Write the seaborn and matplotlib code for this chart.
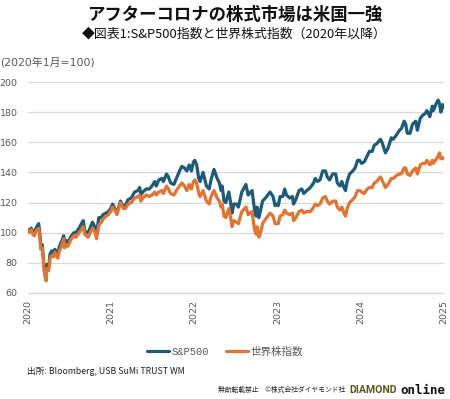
import matplotlib
matplotlib.use("Agg")
import matplotlib.pyplot as plt
import matplotlib.dates as mdates
import pandas as pd
import seaborn as sns

# --- data (2020年1月 = 100) ---
dates = [
    "2020-01-02", "2020-01-10", "2020-01-17", "2020-01-24", "2020-01-31", "2020-02-07",
    "2020-02-19", "2020-02-25", "2020-02-28", "2020-03-06", "2020-03-12", "2020-03-16",
    "2020-03-23", "2020-03-26", "2020-04-03", "2020-04-09", "2020-04-17", "2020-04-24",
    "2020-04-30", "2020-05-13", "2020-05-20", "2020-05-29", "2020-06-08", "2020-06-11",
    "2020-06-19", "2020-06-26", "2020-07-08", "2020-07-22", "2020-07-31", "2020-08-14",
    "2020-08-28", "2020-09-02", "2020-09-08", "2020-09-23", "2020-10-12", "2020-10-22",
    "2020-10-30", "2020-11-09", "2020-11-20", "2020-11-27", "2020-12-10", "2020-12-21",
    "2020-12-31",
    "2021-01-08", "2021-01-15", "2021-01-27", "2021-02-12", "2021-02-25", "2021-03-05",
    "2021-03-17", "2021-03-31", "2021-04-15", "2021-04-30", "2021-05-07", "2021-05-12",
    "2021-05-21", "2021-06-04", "2021-06-18", "2021-06-30", "2021-07-12", "2021-07-19",
    "2021-07-30", "2021-08-13", "2021-08-19", "2021-09-02", "2021-09-10", "2021-09-20",
    "2021-10-04", "2021-10-15", "2021-10-29", "2021-11-08", "2021-11-19", "2021-11-30",
    "2021-12-10", "2021-12-20", "2021-12-29",
    "2022-01-04", "2022-01-12", "2022-01-21", "2022-01-27", "2022-02-09", "2022-02-24",
    "2022-03-08", "2022-03-16", "2022-03-29", "2022-04-12", "2022-04-22", "2022-04-29",
    "2022-05-04", "2022-05-12", "2022-05-20", "2022-06-02", "2022-06-10", "2022-06-16",
    "2022-06-24", "2022-07-06", "2022-07-14", "2022-07-29", "2022-08-16", "2022-08-26",
    "2022-09-12", "2022-09-23", "2022-09-30", "2022-10-04", "2022-10-12", "2022-10-21",
    "2022-10-28", "2022-11-10", "2022-11-30", "2022-12-13", "2022-12-22", "2022-12-30",
    "2023-01-05", "2023-01-13", "2023-01-25", "2023-02-02", "2023-02-10", "2023-02-24",
    "2023-03-08", "2023-03-13", "2023-03-23", "2023-04-06", "2023-04-18", "2023-04-27",
    "2023-05-10", "2023-05-26", "2023-06-09", "2023-06-16", "2023-06-26", "2023-07-07",
    "2023-07-19", "2023-07-31", "2023-08-08", "2023-08-18", "2023-09-01", "2023-09-14",
    "2023-09-21", "2023-10-03", "2023-10-11", "2023-10-20", "2023-10-27", "2023-11-03",
    "2023-11-14", "2023-11-28", "2023-12-08", "2023-12-19", "2023-12-28",
    "2024-01-05", "2024-01-17", "2024-01-30", "2024-02-09", "2024-02-21", "2024-03-01",
    "2024-03-12", "2024-03-28", "2024-04-04", "2024-04-19", "2024-04-30", "2024-05-15",
    "2024-05-23", "2024-06-07", "2024-06-20", "2024-06-28", "2024-07-10", "2024-07-17",
    "2024-07-24", "2024-08-05", "2024-08-16", "2024-08-30", "2024-09-06", "2024-09-19",
    "2024-09-30", "2024-10-10", "2024-10-18", "2024-10-31", "2024-11-11", "2024-11-15",
    "2024-11-29", "2024-12-06", "2024-12-12", "2024-12-18", "2024-12-26", "2024-12-31",
]

sp500 = [
    100, 102, 103, 101, 99, 103, 106, 98, 91, 92, 80, 74,
    70, 79, 77, 86, 88, 86, 89, 86, 91, 94, 98, 92,
    95, 93, 97, 100, 100, 103, 107, 108, 101, 100, 107, 104,
    100, 110, 110, 112, 113, 114, 116,
    119, 117, 113, 121, 117, 118, 122, 123, 127, 128, 130, 125,
    127, 129, 129, 131, 134, 131, 135, 136, 134, 139, 137, 133,
    132, 136, 141, 144, 143, 141, 145, 141, 147,
    148, 145, 136, 134, 140, 131, 129, 135, 142, 136, 133, 128,
    131, 121, 120, 127, 120, 113, 119, 119, 117, 127, 132, 125,
    128, 115, 111, 117, 110, 116, 121, 123, 127, 124, 118, 119,
    118, 124, 124, 129, 125, 123, 124, 119, 122, 128, 129, 126,
    128, 130, 133, 136, 134, 135, 141, 141, 137, 135, 139, 139,
    133, 131, 134, 130, 128, 134, 139, 141, 143, 148, 148,
    146, 147, 151, 154, 154, 158, 159, 162, 160, 153, 156, 163,
    162, 165, 168, 169, 174, 172, 166, 166, 172, 174, 168, 176,
    178, 179, 181, 177, 184, 181, 186, 188, 186, 180, 185, 183,
]

world = [
    100, 101, 102, 99, 98, 101, 103, 96, 89, 90, 79, 72,
    68, 76, 75, 83, 85, 84, 87, 83, 88, 91, 96, 90,
    92, 91, 95, 98, 97, 100, 103, 104, 99, 97, 103, 101,
    96, 105, 107, 109, 111, 112, 114,
    117, 116, 112, 120, 116, 116, 119, 120, 123, 124, 125, 121,
    123, 125, 124, 125, 127, 125, 127, 128, 126, 131, 129, 126,
    125, 128, 131, 133, 131, 128, 132, 129, 134,
    135, 133, 126, 124, 128, 121, 119, 124, 128, 123, 121, 117,
    119, 111, 110, 116, 110, 104, 108, 107, 106, 114, 117, 112,
    114, 102, 99, 104, 97, 101, 106, 109, 113, 111, 106, 106,
    106, 111, 112, 115, 113, 112, 113, 108, 110, 114, 115, 113,
    114, 114, 117, 119, 118, 119, 123, 124, 121, 119, 121, 121,
    117, 115, 117, 113, 111, 116, 120, 122, 124, 128, 128,
    127, 126, 129, 130, 130, 133, 134, 137, 135, 130, 132, 136,
    136, 138, 139, 139, 143, 143, 139, 138, 141, 143, 139, 145,
    146, 146, 148, 145, 148, 146, 149, 151, 153, 149, 150, 149,
]

series_names = ["S&P500", "世界株指数"]
years = [2020, 2021, 2022, 2023, 2024, 2025]
y_ticks = [60, 80, 100, 120, 140, 160, 180, 200]

df = pd.DataFrame({
    "date": pd.to_datetime(dates * 2),
    "value": sp500 + world,
    "series": [series_names[0]] * len(sp500) + [series_names[1]] * len(world),
})

sns.set_theme(style="white")
plt.rcParams["font.family"] = ["Noto Sans CJK JP", "DejaVu Sans"]

GRAY = "#595959"
palette = {"S&P500": "#1c5a79", "世界株指数": "#e57330"}

fig = plt.figure(figsize=(4.5, 3.99), dpi=100)
ax = fig.add_axes([27.5 / 450, 1 - 293 / 399, (444 - 27.5) / 450, (293 - 82) / 399])

sns.lineplot(data=df, x="date", y="value", hue="series", hue_order=series_names,
             palette=palette, linewidth=2.3, ax=ax)

ax.set_xlim(pd.Timestamp("2020-01-01"), pd.Timestamp("2025-01-01"))
ax.set_ylim(60, 200)
ax.set_yticks(y_ticks)
ax.set_xticks([pd.Timestamp(f"{y}-01-01") for y in years])
ax.xaxis.set_major_formatter(mdates.DateFormatter("%Y"))
ax.set_xlabel("")
ax.set_ylabel("")

ax.grid(axis="y", color="#d9d9d9", linewidth=0.9)
ax.set_axisbelow(True)
for side in ["top", "right", "left"]:
    ax.spines[side].set_visible(False)
ax.spines["bottom"].set_color("#d9d9d9")
ax.spines["bottom"].set_linewidth(0.9)

ax.tick_params(axis="y", length=0, pad=7, labelsize=6.8, labelcolor=GRAY)
ax.tick_params(axis="x", length=3, color="#d9d9d9", pad=2, labelsize=6.8,
               labelcolor=GRAY, labelrotation=90)
for lab in ax.get_xticklabels() + ax.get_yticklabels():
    lab.set_family("DejaVu Sans")

# legend below the plot
sns.move_legend(ax, "center", bbox_to_anchor=(0.5, 1 - 352 / 399),
                bbox_transform=fig.transFigure, ncol=2, frameon=False, title=None,
                fontsize=7.6, handlelength=2.1, handletextpad=0.2, columnspacing=1.6)
leg = ax.get_legend()
for t in leg.get_texts():
    t.set_color(GRAY)
leg.get_texts()[0].set_family("Liberation Mono")
for h in leg.get_lines():
    h.set_linewidth(2.3)

# titles and notes
fig.text(0.521, 1 - 15 / 399, "アフターコロナの株式市場は米国一強", ha="center", va="center",
         fontsize=12.5, fontweight="bold", color="#111111")
fig.text(0.521, 1 - 34 / 399, "◆図表1:S&P500指数と世界株式指数（2020年以降）", ha="center",
         va="center", fontsize=9.3, color="#111111")
fig.text(0.0, 1 - 62 / 399, "(2020年1月=100)", ha="left", va="center", fontsize=7.8,
         color=GRAY, family=["DejaVu Sans", "Noto Sans CJK JP"])
fig.text(27 / 450, 1 - 371 / 399, "出所: Bloomberg, USB SuMi TRUST WM", ha="left",
         va="center", fontsize=6.3, color="#222222")

fig.text(345 / 450, 1 - 390 / 399, "無断転載禁止　©株式会社ダイヤモンド社", ha="right",
         va="center", fontsize=4.9, color="#222222")
fig.text(397 / 450, 1 - 390 / 399, "DIAMOND", ha="right", va="center", fontsize=7.6,
         fontweight="bold", color="#5a5a1c", family="Roboto")
fig.text(445 / 450, 1 - 390 / 399, "online", ha="right", va="center", fontsize=9,
         fontweight="bold", color="#111111", family="DejaVu Sans Mono")

fig.savefig("out.png", dpi=100)
